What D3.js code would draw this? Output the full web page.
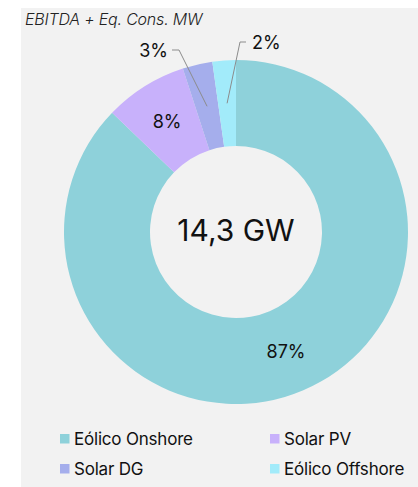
<!DOCTYPE html>
<html>
<head>
<meta charset="utf-8">
<script src="https://cdn.jsdelivr.net/npm/d3@7"></script>
<style>
  body { margin: 0; background: #fff; }
  svg { display: block; font-family: Inter, "Noto Sans", sans-serif; }
</style>
</head>
<body>
<svg id="chart" width="418" height="487"></svg>
<script>
// data
const categories = ["Eólico Onshore", "Solar PV", "Solar DG", "Eólico Offshore"];
const shares = [87.2, 7.8, 2.8, 2.2];
const labels = ["87%", "8%", "3%", "2%"];
const colors = ["#8ed1da", "#c8b1fb", "#a5aeec", "#a2ebfa"];
const title = "EBITDA + Eq. Cons. MW";
const centerText = "14,3 GW";

const svg = d3.select("#chart");

// grey panel
svg.append("rect")
    .attr("x", 21).attr("y", 8)
    .attr("width", 397).attr("height", 479)
    .attr("fill", "#f2f2f2");

svg.append("text")
    .attr("x", 25).attr("y", 25)
    .attr("font-size", 16)
    .attr("letter-spacing", -0.2)
    .attr("font-weight", 300)
    .attr("font-style", "italic")
    .attr("fill", "#222")
    .text(title);

const cx = 236, cy = 232;
const outerR = 172, innerR = 86;

const pie = d3.pie().sort(null).value(d => d);
const arc = d3.arc().innerRadius(innerR).outerRadius(outerR);

const arcs = pie(shares);

const g = svg.append("g").attr("transform", `translate(${cx},${cy})`);

g.selectAll("path")
    .data(arcs)
    .enter().append("path")
    .attr("d", arc)
    .attr("fill", (d, i) => colors[i]);

g.append("text")
    .attr("text-anchor", "middle")
    .attr("y", 9)
    .attr("font-size", 30)
    .attr("fill", "#111")
    .text(centerText);

// big slices: label inside
const labelArc = d3.arc().innerRadius(130).outerRadius(130);
[0, 1].forEach(i => {
    let c = labelArc.centroid(arcs[i]);
    if (i === 0) c = [50, 120];
    g.append("text")
        .attr("x", c[0]).attr("y", c[1])
        .attr("text-anchor", "middle")
        .attr("dy", "0.35em")
        .attr("font-size", 18)
        .attr("fill", "#111")
        .text(labels[i]);
});

// small slices: leader lines
const innerPt = d3.arc().innerRadius(129).outerRadius(129);
const leaders = [
    { i: 2, elbow: [-57, -182], end: [-64, -182], anchor: "end", tx: -68 },
    { i: 3, elbow: [4, -190], end: [10, -190], anchor: "start", tx: 16 }
];
leaders.forEach(l => {
    const p = innerPt.centroid(arcs[l.i]);
    g.append("polyline")
        .attr("points", [p, l.elbow, l.end].map(q => q.join(",")).join(" "))
        .attr("fill", "none")
        .attr("stroke", "#8c8c8c")
        .attr("stroke-width", 1);
    g.append("text")
        .attr("x", l.tx).attr("y", l.end[1] + 1)
        .attr("text-anchor", l.anchor)
        .attr("dy", "0.35em")
        .attr("font-size", 18)
        .attr("fill", "#111")
        .text(labels[l.i]);
});

// legend
const legendX = [60, 270], legendY = [439, 469];
const legend = svg.append("g").selectAll("g")
    .data(categories)
    .enter().append("g")
    .attr("transform", (d, i) => `translate(${legendX[i % 2]},${legendY[Math.floor(i / 2)]})`);

legend.append("rect")
    .attr("x", 0).attr("y", -5)
    .attr("width", 9.5).attr("height", 9.5)
    .attr("fill", (d, i) => colors[i]);

legend.append("text")
    .attr("x", 14).attr("dy", "0.35em")
    .attr("font-size", 17)
    .attr("letter-spacing", -0.2)
    .attr("fill", "#111")
    .text(d => d);
</script>
</body>
</html>
